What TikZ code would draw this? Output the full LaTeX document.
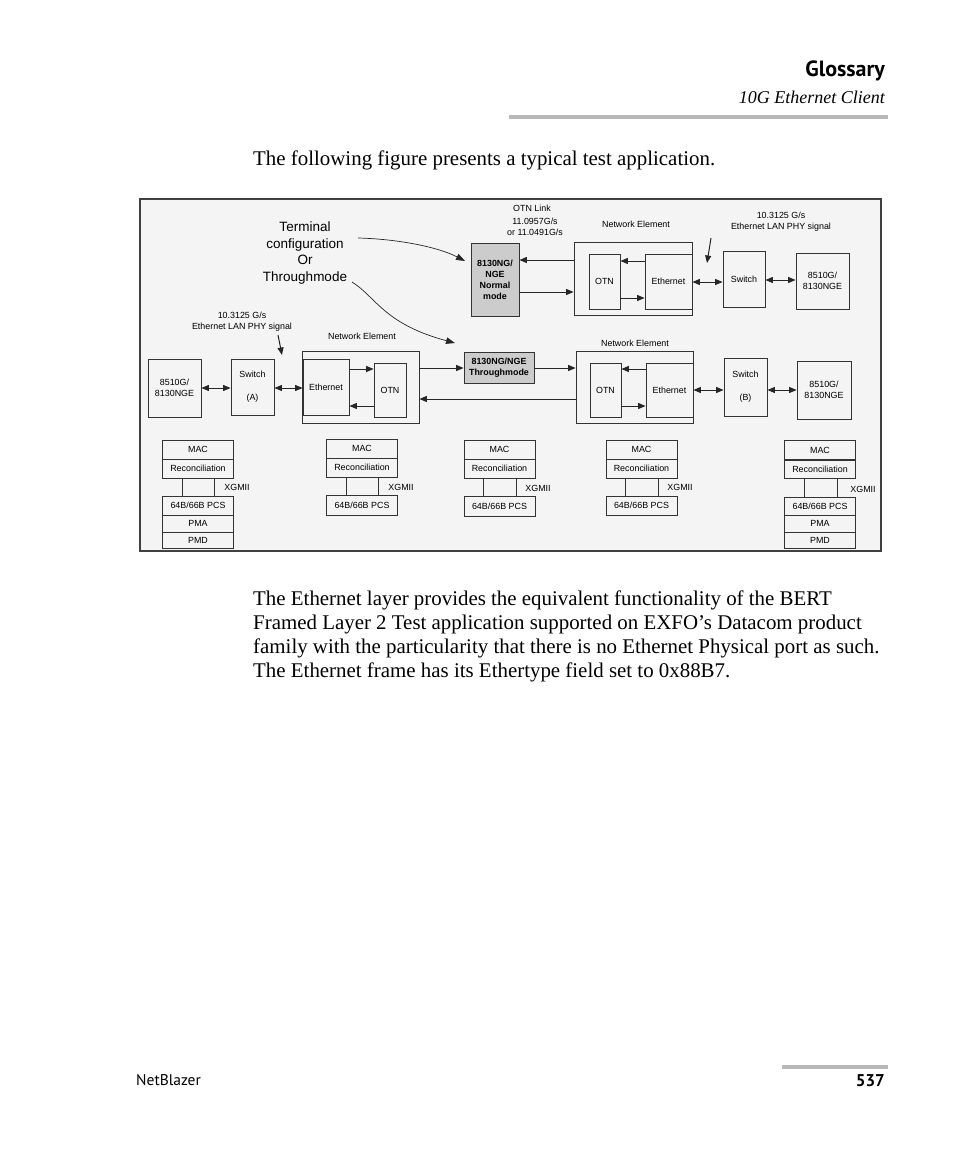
\documentclass[tikz,border=0pt]{standalone}
\usepackage{fontspec}
\setmainfont{Liberation Serif}
\setsansfont{Liberation Sans}
\newfontfamily\pagesans{PT Sans}
\usetikzlibrary{arrows.meta,positioning,shapes}

\definecolor{framebg}{gray}{0.955}
\definecolor{rulegray}{gray}{0.72}
\newcommand{\dfont}{\sffamily\fontsize{8.9}{11}\selectfont}

\begin{document}
\begin{tikzpicture}[x=1pt,y=-1pt,
  box/.style={draw=black!80,line width=0.8pt,inner sep=0pt,font=\dfont,align=center},
  lay/.style={box,minimum width=71pt,minimum height=19pt},
  lbl/.style={inner sep=0pt,font=\dfont,align=center},
  arr/.style={-{Triangle[length=7.5pt,width=6pt]},line width=1pt,black!85},
  dbl/.style={{Triangle[length=7.5pt,width=6pt]}-{Triangle[length=7.5pt,width=6pt]},line width=1pt,black!85},
  curv/.style={-{Triangle[length=9pt,width=6.5pt]},line width=0.7pt,black!85}]
\fill[white] (0,0) rectangle (954,1159);
\useasboundingbox (0,0) rectangle (954,1159);

% page header
\node[anchor=base east,inner sep=0pt,font=\pagesans\bfseries\fontsize{22}{26}\selectfont] (ttl) at (885,76) {Glossary};
\node[anchor=base east,inner sep=0pt,font=\itshape\fontsize{18}{21}\selectfont] (sub) at (885,103) {10G Ethernet Client};
\draw[rulegray,line width=4pt] (509,117) -- (888,117);
\node[anchor=base west,inner sep=0pt,font=\fontsize{20.9}{24}\selectfont] (intro) at (253,165) {The following figure presents a typical test application.};

% figure frame
\draw[black!75,line width=1.2pt,fill=framebg] (140,199) rectangle (881,551);

% upper chain
\node[box,fill=gray!40,font=\dfont\bfseries,minimum width=48pt,minimum height=73pt] (nmode) at (495,279.5) {8130NG/\\NGE\\Normal\\mode};
\node[box,minimum width=118pt,minimum height=73pt] (neU) at (633,278.5) {};
\node[box,minimum width=31pt,minimum height=55pt] (otnU) at (604.5,281.5) {OTN};
\node[box,minimum width=47pt,minimum height=55pt] (ethU) at (668.5,281.5) {Ethernet};
\node[box,minimum width=42pt,minimum height=56pt] (swU) at (744,279) {Switch};
\node[box,minimum width=53pt,minimum height=56pt] (hostU) at (822.5,281) {8510G/\\8130NGE};

\node[lbl] (otnlink) at (532,208) {OTN Link};
\node[lbl] (rate) at (535,226.5) {11.0957G/s\\or 11.0491G/s};
\node[lbl] (neUlbl) at (636,224) {Network Element};
\node[lbl] (sigU) at (781,222) {10.3125 G/s\\Ethernet LAN PHY signal};
\node[inner sep=0pt,align=center,font=\sffamily\fontsize{13.5}{16.7}\selectfont] (term) at (305,253) {Terminal\\configuration\\Or\\Throughmode};

% lower chain
\node[box,minimum width=53pt,minimum height=58pt] (hostA) at (174.5,388) {8510G/\\8130NGE};
\node[box,minimum width=43pt,minimum height=56pt] (swA) at (252.5,387) {Switch\\[12pt](A)};
\node[box,minimum width=117pt,minimum height=72pt] (neL) at (360.5,387) {};
\node[box,minimum width=46pt,minimum height=56pt] (ethL) at (326,387) {Ethernet};
\node[box,minimum width=32pt,minimum height=54pt] (otnL) at (390,390) {OTN};
\node[box,fill=gray!40,font=\dfont\bfseries,minimum width=70pt,minimum height=31pt] (thru) at (499,367.5) {8130NG/NGE\\Throughmode};
\node[box,minimum width=117pt,minimum height=72pt] (neR) at (634.5,387) {};
\node[box,minimum width=31pt,minimum height=54pt] (otnR) at (605.5,390) {OTN};
\node[box,minimum width=47pt,minimum height=54pt] (ethR) at (669.5,390) {Ethernet};
\node[box,minimum width=43pt,minimum height=58pt] (swB) at (745.5,387) {Switch\\[12pt](B)};
\node[box,minimum width=54pt,minimum height=58pt] (hostB) at (824,390) {8510G/\\8130NGE};

\node[lbl] (sigL) at (242,321.5) {10.3125 G/s\\Ethernet LAN PHY signal};
\node[lbl] (neLlbl) at (362,336) {Network Element};
\node[lbl] (neRlbl) at (635,343) {Network Element};

% levels of the links
\coordinate (yU1) at (0,260);
\coordinate (yU2) at (0,292);
\coordinate (yU3) at (0,261);
\coordinate (yU4) at (0,298);
\coordinate (yU5) at (0,282);
\coordinate (yU6) at (0,280);
\coordinate (yL1) at (0,368);
\coordinate (yL2) at (0,399);
\coordinate (yL3) at (0,369);
\coordinate (yL4) at (0,406);
\coordinate (yL5) at (0,388);
\coordinate (yL6) at (0,390);
\coordinate (pU1) at (711,238);
\coordinate (pU2) at (707,263);
\coordinate (pL1) at (278,335);
\coordinate (pL2) at (282,355);
\coordinate (cT1) at (358,238);
\coordinate (cT2) at (352,282);
\coordinate (tipN) at (465,261);
\coordinate (tipT) at (455,343);

\draw[arr] (neU.west |- yU1) -- (nmode.east |- yU1);
\draw[arr] (nmode.east |- yU2) -- (neU.west |- yU2);
\draw[arr] (ethU.west |- yU3) -- (otnU.east |- yU3);
\draw[arr] (otnU.east |- yU4) -- (ethU.west |- yU4);
\draw[dbl] (ethU.east |- yU5) -- (swU.west |- yU5);
\draw[dbl] (swU.east |- yU6) -- (hostU.west |- yU6);
\draw[arr] (pU1) -- (pU2);

\draw[dbl] (hostA.east |- yL5) -- (swA.west |- yL5);
\draw[dbl] (swA.east |- yL5) -- (ethL.west |- yL5);
\draw[arr] (ethL.east |- yL3) -- (otnL.west |- yL3);
\draw[arr] (otnL.west |- yL4) -- (ethL.east |- yL4);
\draw[arr] (neL.east |- yL1) -- (thru.west |- yL1);
\draw[arr] (thru.east |- yL1) -- (neR.west |- yL1);
\draw[arr] (neR.west |- yL2) -- (neL.east |- yL2);
\draw[arr] (ethR.west |- yL3) -- (otnR.east |- yL3);
\draw[arr] (otnR.east |- yL4) -- (ethR.west |- yL4);
\draw[dbl] (ethR.east |- yL6) -- (swB.west |- yL6);
\draw[dbl] (swB.east |- yL6) -- (hostB.west |- yL6);
\draw[arr] (pL1) -- (pL2);

\draw[curv] (cT1) .. controls (398,239) and (438,247) .. (tipN);
\draw[curv] (cT2) .. controls (376,297) and (384,324) .. (tipT);

% layer stacks
\node[lay] (mac1) at (198,449.5) {MAC};
\node[lay] (rec1) at (198,468.5) {Reconciliation};
\node[lay] (pcs1) at (198,505.5) {64B/66B PCS};
\node[lay,minimum height=17pt] (pma1) at (198,523.5) {PMA};
\node[lay,minimum height=16pt] (pmd1) at (198,540) {PMD};
\draw[black!80,line width=0.8pt] ([xshift=-16pt]rec1.south) -- ([xshift=-16pt]pcs1.north);
\draw[black!80,line width=0.8pt] ([xshift=16pt]rec1.south) -- ([xshift=16pt]pcs1.north);
\node[lbl] (xg1) at (237,487) {XGMII};

\node[lay] (mac2) at (362,448.5) {MAC};
\node[lay] (rec2) at (362,467.5) {Reconciliation};
\node[lay,minimum height=20pt] (pcs2) at (362,505) {64B/66B PCS};
\draw[black!80,line width=0.8pt] ([xshift=-16pt]rec2.south) -- ([xshift=-16pt]pcs2.north);
\draw[black!80,line width=0.8pt] ([xshift=16pt]rec2.south) -- ([xshift=16pt]pcs2.north);
\node[lbl] (xg2) at (401,487) {XGMII};

\node[lay] (mac3) at (499.5,449.5) {MAC};
\node[lay] (rec3) at (499.5,468.5) {Reconciliation};
\node[lay,minimum height=20pt] (pcs3) at (499.5,506) {64B/66B PCS};
\draw[black!80,line width=0.8pt] ([xshift=-16.5pt]rec3.south) -- ([xshift=-16.5pt]pcs3.north);
\draw[black!80,line width=0.8pt] ([xshift=16.5pt]rec3.south) -- ([xshift=16.5pt]pcs3.north);
\node[lbl] (xg3) at (538,488) {XGMII};

\node[lay] (mac4) at (641.5,449.5) {MAC};
\node[lay] (rec4) at (641.5,468.5) {Reconciliation};
\node[lay] (pcs4) at (641.5,505.5) {64B/66B PCS};
\draw[black!80,line width=0.8pt] ([xshift=-16.5pt]rec4.south) -- ([xshift=-16.5pt]pcs4.north);
\draw[black!80,line width=0.8pt] ([xshift=16.5pt]rec4.south) -- ([xshift=16.5pt]pcs4.north);
\node[lbl] (xg4) at (680,487) {XGMII};

\node[lay] (mac5) at (820,450) {MAC};
\node[lay,minimum height=18pt] (rec5) at (820,469) {Reconciliation};
\node[lay,minimum height=18pt] (pcs5) at (820,506) {64B/66B PCS};
\node[lay,minimum height=17pt] (pma5) at (820,523.5) {PMA};
\node[lay,minimum height=16pt] (pmd5) at (820,540) {PMD};
\draw[black!80,line width=0.8pt] ([xshift=-16pt]rec5.south) -- ([xshift=-16pt]pcs5.north);
\draw[black!80,line width=0.8pt] ([xshift=17pt]rec5.south) -- ([xshift=17pt]pcs5.north);
\node[lbl] (xg5) at (863,489) {XGMII};

% body text
\node[anchor=base west,inner sep=0pt,font=\fontsize{20.9}{24}\selectfont] (par1) at (253,605) {The Ethernet layer provides the equivalent functionality of the BERT};
\node[anchor=base west,inner sep=0pt,font=\fontsize{20.9}{24}\selectfont] (par2) at (253,629) {Framed Layer 2 Test application supported on EXFO’s Datacom product};
\node[anchor=base west,inner sep=0pt,font=\fontsize{20.9}{24}\selectfont] (par3) at (253,653) {family with the particularity that there is no Ethernet Physical port as such.};
\node[anchor=base west,inner sep=0pt,font=\fontsize{20.9}{24}\selectfont] (par4) at (253,677) {The Ethernet frame has its Ethertype field set to 0x88B7.};

% footer
\draw[rulegray,line width=4pt] (782,1067) -- (888,1067);
\node[anchor=base west,inner sep=0pt,font=\pagesans\fontsize{15.5}{18}\selectfont] (prod) at (136,1085) {NetBlazer};
\node[anchor=base east,inner sep=0pt,font=\pagesans\bfseries\fontsize{17}{20}\selectfont] (pg) at (885,1086) {537};
\end{tikzpicture}
\end{document}
